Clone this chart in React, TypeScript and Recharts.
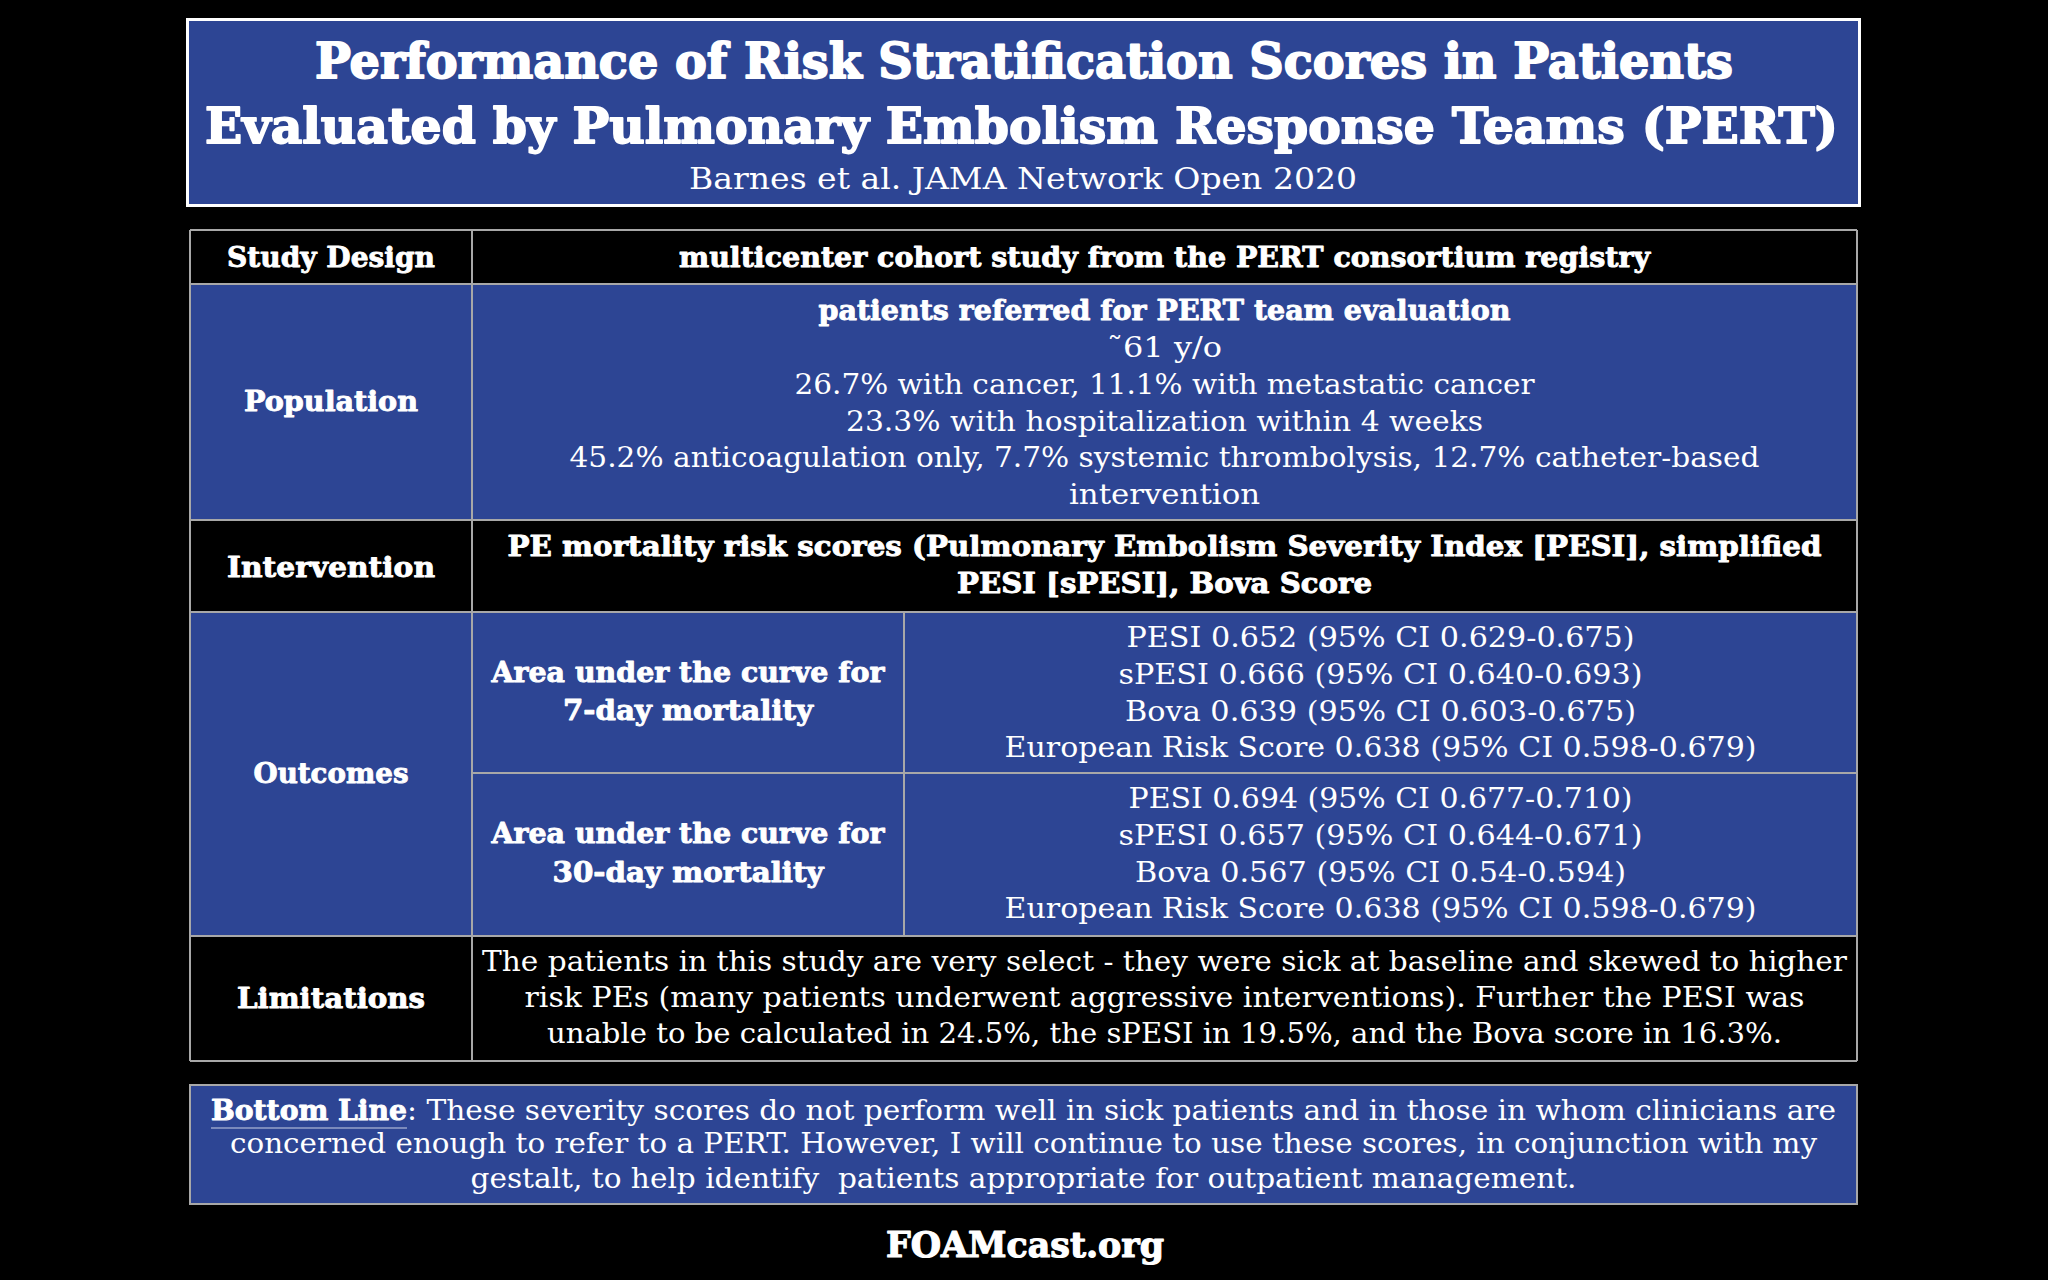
import React from "react";
import { ComposedChart, Customized } from "recharts";

// ---------- content ----------
const titleLines = [
  "Performance of Risk Stratification Scores in Patients",
  "Evaluated by Pulmonary Embolism Response Teams (PERT)",
];
const citation = "Barnes et al. JAMA Network Open 2020";
const rowLabels = ["Study Design", "Population", "Intervention", "Outcomes", "Limitations"];
const studyDesign = ["multicenter cohort study from the PERT consortium registry"];
const populationHeader = ["patients referred for PERT team evaluation"];
const populationLines = [
  "\u02DC61 y/o",
  "26.7% with cancer, 11.1% with metastatic cancer",
  "23.3% with hospitalization within 4 weeks",
  "45.2% anticoagulation only, 7.7% systemic thrombolysis, 12.7% catheter-based",
  "intervention",
];
const interventionLines = [
  "PE mortality risk scores (Pulmonary Embolism Severity Index [PESI], simplified",
  "PESI [sPESI], Bova Score",
];
const outcomeLabels7 = ["Area under the curve for", "7-day mortality"];
const outcomeLabels30 = ["Area under the curve for", "30-day mortality"];
const auc7 = [
  "PESI 0.652 (95% CI 0.629-0.675)",
  "sPESI 0.666 (95% CI 0.640-0.693)",
  "Bova 0.639 (95% CI 0.603-0.675)",
  "European Risk Score 0.638 (95% CI 0.598-0.679)",
];
const auc30 = [
  "PESI 0.694 (95% CI 0.677-0.710)",
  "sPESI 0.657 (95% CI 0.644-0.671)",
  "Bova 0.567 (95% CI 0.54-0.594)",
  "European Risk Score 0.638 (95% CI 0.598-0.679)",
];
const limitationLines = [
  "The patients in this study are very select - they were sick at baseline and skewed to higher",
  "risk PEs (many patients underwent aggressive interventions). Further the PESI was",
  "unable to be calculated in 24.5%, the sPESI in 19.5%, and the Bova score in 16.3%.",
];
const bottomLabel = "Bottom Line";
const bottomLines = [
  ": These severity scores do not perform well in sick patients and in those in whom clinicians are",
  "concerned enough to refer to a PERT. However, I will continue to use these scores, in conjunction with my",
  "gestalt, to help identify  patients appropriate for outpatient management.",
];
const footer = "FOAMcast.org";

// ---------- layout / style ----------
const W = 2048;
const H = 1280;
const BLUE = "#2D4594";
const GRID = "#A8A8A8";
const FONT = "'DejaVu Serif', serif";

const X0 = 190, X1 = 472, X2 = 904, X3 = 1857;
const rowY = [230, 284, 520, 612, 936, 1061];
const rowFill = ["#000", BLUE, "#000", BLUE, "#000"];
const labelBaselines = [267, 411, 577, 783, 1008];
const labelWidths = [208, 174, 208, 155, 188];

type T = { s: string; cx?: number; x?: number; y: number; w: number; size: number; bold?: boolean; heavy?: number };

const Txt = ({ s, cx, x, y, w, size, bold, heavy }: T) => (
  <text
    x={cx !== undefined ? cx : x}
    y={y}
    textAnchor={cx !== undefined ? "middle" : "start"}
    fill="#fff"
    stroke={heavy ? "#fff" : "none"}
    strokeWidth={heavy || 0}
    strokeLinejoin="round"
    fontFamily={FONT}
    fontWeight={bold ? 700 : 400}
    fontSize={size}
    textLength={w}
    lengthAdjust="spacingAndGlyphs"
    style={{ whiteSpace: "pre" }}
  >
    {s}
  </text>
);

const Sheet = () => {
  const c2 = (X1 + X3) / 2;
  const c2a = (X1 + X2) / 2;
  const c2b = (X2 + X3) / 2;
  const cAll = (X0 + X3) / 2;
  const popW = [115, 740, 637, 1190, 191];
  const intW = [1314, 415];
  const auc7W = [508, 524, 511, 752];
  const auc30W = [504, 524, 491, 752];
  const aucY7 = [647, 684, 721, 757];
  const aucY30 = [808, 845, 882, 918];
  const limW = [1365, 1280, 1235];
  const limY = [971, 1007, 1043];
  const hb = 0.9;
  return (
    <g>
      <rect x={0} y={0} width={W} height={H} fill="#000" />
      {/* title box */}
      <rect x={187.5} y={19.5} width={1672} height={186} fill={BLUE} stroke="#fff" strokeWidth={3} />
      <Txt s={titleLines[0]} cx={1024} y={78} w={1418} size={48} bold heavy={1.8} />
      <Txt s={titleLines[1]} cx={1021.5} y={143} w={1633} size={48} bold heavy={1.8} />
      <Txt s={citation} cx={1023} y={189} w={668} size={30} />

      {/* table fills */}
      {rowFill.map((f, i) => (
        <rect key={i} x={X0} y={rowY[i]} width={X3 - X0} height={rowY[i + 1] - rowY[i]} fill={f} />
      ))}
      {/* grid */}
      {rowY.map((y, i) => (
        <line key={"h" + i} x1={X0} x2={X3} y1={y} y2={y} stroke={GRID} strokeWidth={2} />
      ))}
      <line x1={X1} x2={X3} y1={773} y2={773} stroke={GRID} strokeWidth={2} />
      {[X0, X1, X3].map((x, i) => (
        <line key={"v" + i} x1={x} x2={x} y1={rowY[0]} y2={rowY[5]} stroke={GRID} strokeWidth={2} />
      ))}
      <line x1={X2} x2={X2} y1={rowY[3]} y2={rowY[4]} stroke={GRID} strokeWidth={2} />

      {/* row labels */}
      {rowLabels.map((l, i) => (
        <Txt key={l} s={l} cx={(X0 + X1) / 2} y={labelBaselines[i]} w={labelWidths[i]} size={28} bold heavy={hb} />
      ))}

      {/* study design */}
      <Txt s={studyDesign[0]} cx={c2} y={267} w={971} size={27} bold heavy={hb} />

      {/* population */}
      <Txt s={populationHeader[0]} cx={c2} y={320} w={692} size={27} bold heavy={hb} />
      {populationLines.map((l, i) => (
        <Txt key={l} s={l} cx={c2} y={357 + i * 36.8} w={popW[i]} size={27} />
      ))}

      {/* intervention */}
      {interventionLines.map((l, i) => (
        <Txt key={l} s={l} cx={c2} y={556 + i * 37} w={intW[i]} size={27} bold heavy={hb} />
      ))}

      {/* outcomes */}
      <Txt s={outcomeLabels7[0]} cx={c2a} y={682} w={393} size={27} bold heavy={hb} />
      <Txt s={outcomeLabels7[1]} cx={c2a} y={720} w={250} size={27} bold heavy={hb} />
      <Txt s={outcomeLabels30[0]} cx={c2a} y={843} w={393} size={27} bold heavy={hb} />
      <Txt s={outcomeLabels30[1]} cx={c2a} y={882} w={271} size={27} bold heavy={hb} />
      {auc7.map((l, i) => (
        <Txt key={"a7" + i} s={l} cx={c2b} y={aucY7[i]} w={auc7W[i]} size={27} />
      ))}
      {auc30.map((l, i) => (
        <Txt key={"a30" + i} s={l} cx={c2b} y={aucY30[i]} w={auc30W[i]} size={27} />
      ))}

      {/* limitations */}
      {limitationLines.map((l, i) => (
        <Txt key={"lim" + i} s={l} cx={c2} y={limY[i]} w={limW[i]} size={27} />
      ))}

      {/* bottom line box */}
      <rect x={X0} y={1085} width={X3 - X0} height={119} fill={BLUE} stroke={GRID} strokeWidth={2} />
      <Txt s={bottomLabel} x={211} y={1120} w={196} size={27} bold heavy={hb} />
      <line x1={211} x2={407} y1={1128} y2={1128} stroke="#c9cfe3" strokeWidth={1.2} />
      <Txt s={bottomLines[0]} x={407} y={1120} w={1429} size={27} />
      <Txt s={bottomLines[1]} cx={cAll} y={1153} w={1587} size={27} />
      <Txt s={bottomLines[2]} cx={cAll} y={1188} w={1106} size={27} />

      {/* footer */}
      <Txt s={footer} cx={1025} y={1257} w={278} size={36} bold heavy={1.2} />
    </g>
  );
};

export default function App() {
  return (
    <div style={{ position: "fixed", left: 0, top: 0, width: W, height: H, background: "#000" }}>
      <ComposedChart width={W} height={H} data={[]} margin={{ top: 0, right: 0, bottom: 0, left: 0 }}>
        <Customized component={Sheet} />
      </ComposedChart>
    </div>
  );
}
